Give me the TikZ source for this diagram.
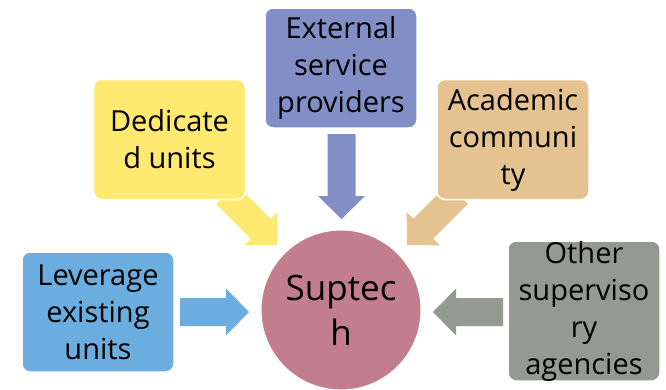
\documentclass[tikz,border=0pt]{standalone}
\usepackage{fontspec}
\setmainfont{Open Sans}
\usetikzlibrary{calc}
\definecolor{cblue}{RGB}{107,173,223}
\definecolor{cyellow}{RGB}{255,233,112}
\definecolor{cpurple}{RGB}{130,143,199}
\definecolor{ctan}{RGB}{228,195,145}
\definecolor{cgray}{RGB}{148,153,145}
\definecolor{cpink}{RGB}{194,126,140}
\tikzset{
  srcbox/.style={draw=white, line width=1.5pt, rounded corners=8pt, minimum width=152pt, minimum height=120pt,
    align=center, inner sep=0pt, font=\fontsize{29}{37}\selectfont},
  hub/.style={circle, draw=white, line width=1pt, minimum size=160pt, inner sep=0pt, align=center,
    font=\fontsize{35}{45}\selectfont}
}
\newcommand\fatarrow[3]{%
  \coordinate (hd) at ($(#3)!23pt!(#2)$);
  \fill[#1] ($(#2)!14pt!90:(#3)$) -- ($(hd)!14pt!90:(#3)$) -- ($(hd)!23.5pt!90:(#3)$) -- (#3)
    -- ($(hd)!23.5pt!-90:(#3)$) -- ($(hd)!14pt!-90:(#3)$) -- ($(#2)!14pt!-90:(#3)$) -- cycle;}
\begin{document}
\begin{tikzpicture}[x=1pt,y=-1pt]
\useasboundingbox (0,0) rectangle (666,389);
% arrow end points
\coordinate (blueA) at (180,312);  \coordinate (blueB) at (249,312);
\coordinate (yelA) at (226,194);   \coordinate (yelB) at (277,245);
\coordinate (purA) at (341.5,134); \coordinate (purB) at (341.5,219);
\coordinate (tanA) at (458,194);   \coordinate (tanB) at (407,245);
\coordinate (grayA) at (503,312);  \coordinate (grayB) at (433,312);
\fatarrow{cblue}{blueA}{blueB}
\fatarrow{cyellow}{yelA}{yelB}
\fatarrow{cpurple}{purA}{purB}
\fatarrow{ctan}{tanA}{tanB}
\fatarrow{cgray}{grayA}{grayB}
% nodes
\node[hub, fill=cpink] (hubn) at (341,310) {Suptec\\h};
\node[srcbox, fill=cblue] (lev) at (98,312) {Leverage\\existing\\units};
\node[srcbox, fill=cyellow] (ded) at (169.5,139.5) {Dedicate\\d units};
\node[srcbox, fill=cpurple] (ext) at (341,68) {External\\service\\providers};
\node[srcbox, fill=ctan] (aca) at (513,139.5) {Academic\\communi\\ty};
\node[srcbox, fill=cgray] (oth) at (584,311) {Other\\superviso\\ry\\agencies};
\end{tikzpicture}
\end{document}
